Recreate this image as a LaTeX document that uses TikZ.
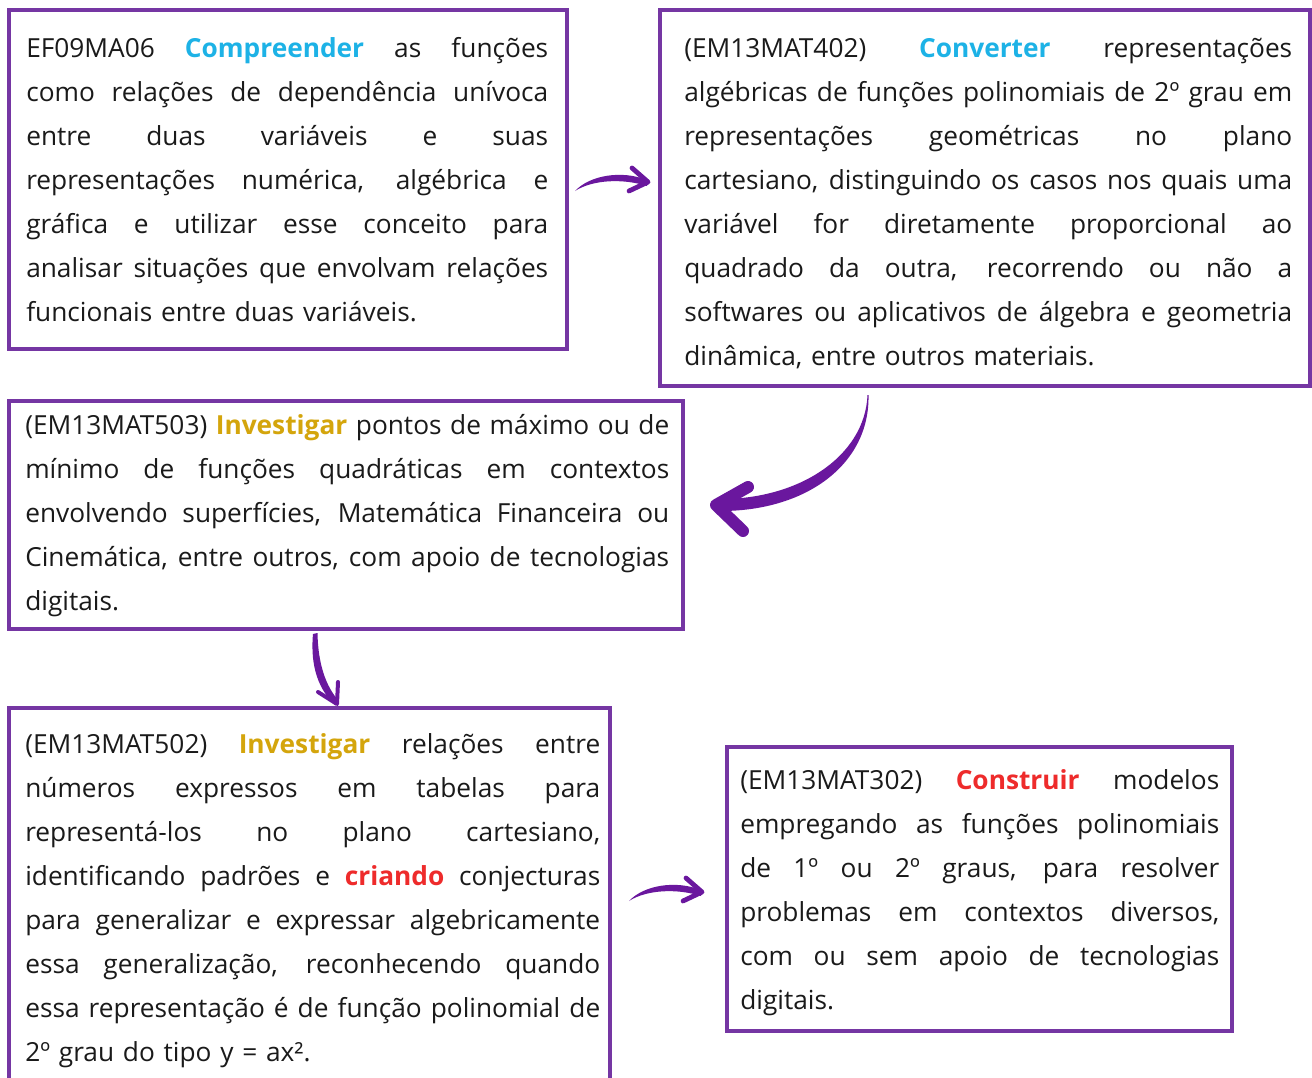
\documentclass[tikz,border=0pt]{standalone}
\usepackage{fontspec}
\setmainfont{Open Sans}
\definecolor{bord}{HTML}{7536A3}
\definecolor{arr}{HTML}{6A179E}
\definecolor{cy}{HTML}{1DB2E6}
\definecolor{gold}{HTML}{D4A50C}
\definecolor{rd}{HTML}{EE2B2B}
\definecolor{ink}{HTML}{1A1A1A}
\newlength\tw
\newcommand\JL[1]{\leavevmode\hbox to \tw{\spaceskip=0.26em plus 1fil minus 0.08em\relax #1}}
\newcommand\kw[2]{{\bfseries\color{#1}#2}}
\tikzset{
  boxline/.style={draw=bord, line width=3pt},
  txt/.style={anchor=north west, inner sep=0pt, align=left, text=ink,
    font=\fontsize{19.7}{33}\selectfont},
  arrowfill/.style={fill=arr, draw=none},
  barb/.style={draw=arr, line cap=round, line join=round},
}
\begin{document}
\begin{tikzpicture}[x=0.75pt, y=-0.75pt]
\clip (0,0) rectangle (1312,1077);
\fill[white] (0,0) rectangle (1312,1077);

% boxes
\draw[boxline] (8.5,10.3) rectangle (567,348.5);
\draw[boxline] (660,10.3) rectangle (1310,386);
\draw[boxline] (8.5,401) rectangle (683,628.5);
\draw[boxline] (8.5,708) rectangle (610,1100);
\draw[boxline] (727,747) rectangle (1232,1031);

% texts
\setlength\tw{391.5pt}
\node[txt, text width=\tw] (t1) at (26,26.2) {\noindent\strut
\JL{EF09MA06 \kw{cy}{Compreender} as funções}\\
\JL{como relações de dependência unívoca}\\
\JL{entre duas variáveis e suas}\\
\JL{representações numérica, algébrica e}\\
\JL{gráfica e utilizar esse conceito para}\\
\JL{analisar situações que envolvam relações}\\
funcionais entre duas variáveis.};

\setlength\tw{456pt}
\node[txt, text width=\tw] (t2) at (684,26.2) {\noindent\strut
\JL{(EM13MAT402) \kw{cy}{Converter} representações}\\
\JL{algébricas de funções polinomiais de 2º grau em}\\
\JL{representações geométricas no plano}\\
\JL{cartesiano, distinguindo os casos nos quais uma}\\
\JL{variável for diretamente proporcional ao}\\
\JL{quadrado da outra, recorrendo ou não a}\\
\JL{softwares ou aplicativos de álgebra e geometria}\\
dinâmica, entre outros materiais.};

\setlength\tw{483pt}
\node[txt, text width=\tw] (t3) at (25,403.2) {\noindent\strut
\JL{(EM13MAT503) \kw{gold}{Investigar} pontos de máximo ou de}\\
\JL{mínimo de funções quadráticas em contextos}\\
\JL{envolvendo superfícies, Matemática Financeira ou}\\
\JL{Cinemática, entre outros, com apoio de tecnologias}\\
digitais.};

\setlength\tw{431.25pt}
\node[txt, text width=\tw] (t4) at (25,722.2) {\noindent\strut
\JL{(EM13MAT502) \kw{gold}{Investigar} relações entre}\\
\JL{números expressos em tabelas para}\\
\JL{representá-los no plano cartesiano,}\\
\JL{identificando padrões e \kw{rd}{criando} conjecturas}\\
\JL{para generalizar e expressar algebricamente}\\
\JL{essa generalização, reconhecendo quando}\\
\JL{essa representação é de função polinomial de}\\
2º grau do tipo y = ax².};

\setlength\tw{359.25pt}
\node[txt, text width=\tw] (t5) at (740,758.2) {\noindent\strut
\JL{(EM13MAT302) \kw{rd}{Construir} modelos}\\
\JL{empregando as funções polinomiais}\\
\JL{de 1º ou 2º graus, para resolver}\\
\JL{problemas em contextos diversos,}\\
\JL{com ou sem apoio de tecnologias}\\
digitais.};

% arrow 1 (box1 -> box2)
\fill[arrowfill] (575,191) .. controls (590,175) and (622,170) .. (647,180)
  -- (647,186) .. controls (622,178) and (592,180) .. (575,191) -- cycle;
\draw[barb, line width=3.6pt] (632,168) -- (648,182) -- (629,191);

% arrow 4 (box4 -> box5)
\begin{scope}[shift={(54,710)}]
\fill[arrowfill] (575,191) .. controls (590,175) and (622,170) .. (647,180)
  -- (647,186) .. controls (622,178) and (592,180) .. (575,191) -- cycle;
\draw[barb, line width=3.6pt] (632,168) -- (648,182) -- (629,191);
\end{scope}

% arrow 2 (box2 -> box3)
\fill[arrowfill] (868.5,395) .. controls (870,465) and (805,512) .. (718,511)
  -- (718,499) .. controls (799,500) and (865,456) .. (867.5,395) -- cycle;
\draw[barb, line width=9pt] (748,487) -- (716,505) -- (743,531);

% arrow 3 (box3 -> box4)
\fill[arrowfill] (313,634) .. controls (310,667) and (319,690) .. (335,705)
  -- (339,701) .. controls (326,687) and (318,664) .. (317.5,633) -- cycle;
\draw[barb, line width=3pt] (318,692) -- (337,704) -- (338,682);
\end{tikzpicture}
\end{document}
